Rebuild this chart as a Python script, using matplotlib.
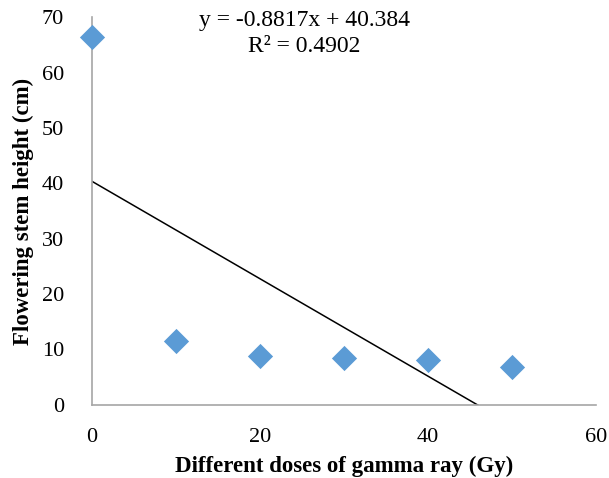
import numpy as np
import matplotlib.pyplot as plt

plt.rcParams["font.family"] = ["Liberation Serif", "DejaVu Serif"]

# Data
doses = [0, 10, 20, 30, 40, 50]
stem_height = [66.4, 11.5, 8.8, 8.5, 8.1, 6.9]
equation_text = "y = -0.8817x + 40.384\nR² = 0.4902"

slope, intercept = np.polyfit(doses, stem_height, 1)

fig = plt.figure(figsize=(6.09, 4.78), dpi=100)
ax = fig.add_axes([0.151, 0.153, 0.828, 0.811])

ax.scatter(doses, stem_height, marker="D", s=165, color="#5B9BD5", zorder=3,
           linewidths=0, clip_on=False)

xs = np.array([0, 60])
ax.plot(xs, slope * xs + intercept, color="black", linewidth=1.1, zorder=2)

ax.set_xlim(0, 60)
ax.set_ylim(0, 70)
ax.set_xticks([0, 20, 40, 60])
ax.set_yticks(range(0, 71, 10))
ax.tick_params(length=0, labelsize=16)
ax.tick_params(axis="x", pad=17)
ax.tick_params(axis="y", pad=20)

for side in ["top", "right"]:
    ax.spines[side].set_visible(False)
for side in ["left", "bottom"]:
    ax.spines[side].set_color("#A6A6A6")
    ax.spines[side].set_linewidth(1.2)

ax.set_xlabel("Different doses of gamma ray (Gy)", fontsize=16.5, fontweight="bold", labelpad=6)
ax.set_ylabel("Flowering stem height (cm)", fontsize=16.5, fontweight="bold", labelpad=6)

ax.text(25.3, 71.3, equation_text, ha="center", va="top", fontsize=17, linespacing=1.3, clip_on=False)

fig.savefig("out.png", dpi=100)
